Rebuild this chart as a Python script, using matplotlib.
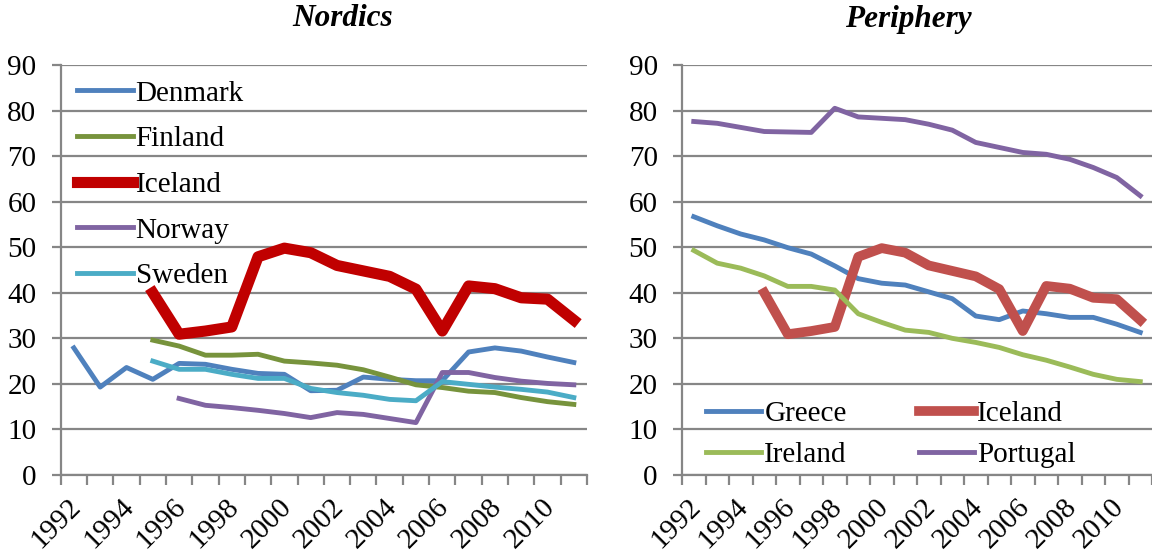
import numpy as np
import matplotlib
matplotlib.use("Agg")
import matplotlib.pyplot as plt
import matplotlib.transforms as mtransforms

plt.rcParams['font.family'] = ['Liberation Serif', 'DejaVu Serif']

years = list(range(1992, 2012))
nan = np.nan

# Nordics
denmark = [27.9, 19.3, 23.6, 21.0, 24.5, 24.3, 23.2, 22.3, 22.1, 18.5, 18.6, 21.5,
           21.0, 20.7, 20.7, 27.0, 27.9, 27.2, 25.9, 24.7]
finland = [nan, nan, nan, 29.6, 28.3, 26.3, 26.3, 26.5, 25.0, 24.6, 24.1, 23.1,
           21.5, 19.8, 19.2, 18.4, 18.1, 17.0, 16.1, 15.5]
iceland = [nan, nan, nan, 40.0, 30.9, 31.6, 32.5, 47.9, 49.8, 48.8, 46.0, 44.8,
           43.6, 40.8, 31.6, 41.5, 40.9, 38.9, 38.6, 34.0]
norway = [nan, nan, nan, nan, 16.8, 15.3, 14.8, 14.2, 13.5, 12.6, 13.7, 13.3,
          12.4, 11.5, 22.5, 22.5, 21.4, 20.6, 20.1, 19.8]
sweden = [nan, nan, nan, 25.0, 23.2, 23.2, 22.1, 21.2, 21.2, 19.0, 18.1, 17.5,
          16.6, 16.3, 20.5, 19.9, 19.3, 18.8, 18.2, 17.0]

# Periphery
greece = [56.7, 54.7, 52.9, 51.6, 49.9, 48.5, 45.9, 43.1, 42.1, 41.7, 40.2, 38.7,
          34.9, 34.1, 36.0, 35.4, 34.6, 34.6, 33.1, 31.3]
ireland = [49.3, 46.5, 45.4, 43.7, 41.4, 41.4, 40.6, 35.4, 33.5, 31.8, 31.3, 30.0,
           29.1, 28.0, 26.4, 25.2, 23.7, 22.1, 21.0, 20.5]
portugal = [77.6, 77.2, 76.3, 75.4, 75.3, 75.2, 80.5, 78.6, 78.3, 78.0, 77.0, 75.7,
            73.0, 71.9, 70.8, 70.4, 69.3, 67.5, 65.3, 61.3]

grid_c = '#868686'
fs = 21
thin = 3.5

W, H = 1152, 555
fig = plt.figure(figsize=(W / 100, H / 100), dpi=100)
ax1 = fig.add_axes([60.7/W, 80/H, 526.3/W, 410/H])
ax2 = fig.add_axes([682/W, 80/H, 470/W, 410/H])

x = np.arange(len(years))


def style(ax):
    ax.set_xlim(-0.5, len(years) - 0.5)
    ax.set_ylim(0, 90)
    ax.set_yticks(range(0, 91, 10))
    ax.yaxis.grid(True, color=grid_c, lw=1.6)
    ax.set_axisbelow(True)
    for s in ['top', 'right']:
        ax.spines[s].set_visible(False)
    for s in ['left', 'bottom']:
        ax.spines[s].set_color(grid_c)
        ax.spines[s].set_linewidth(1.6)
    ax.set_xticks(x[::2])
    ax.set_xticklabels([str(y) for y in years[::2]], rotation=45, ha='right', va='center',
                       rotation_mode='anchor', fontsize=fs)
    ax.set_xticks(np.arange(-0.5, len(years)), minor=True)
    ax.tick_params(axis='x', which='major', length=0, pad=20)
    ax.tick_params(axis='x', which='minor', length=7, width=1.6, color=grid_c)
    ax.tick_params(axis='y', length=6.5, width=1.6, color=grid_c, labelsize=fs, pad=11)
    off = mtransforms.ScaledTranslation(3/100, 0, fig.dpi_scale_trans)
    for lab in ax.get_xticklabels():
        lab.set_transform(lab.get_transform() + off)


style(ax1)
style(ax2)

ax1.plot(x, denmark, color='#4F81BD', lw=thin, label='Denmark')
ax1.plot(x, finland, color='#77933C', lw=thin, label='Finland')
ax1.plot(x, iceland, color='#C00000', lw=8, label='Iceland')
ax1.plot(x, norway, color='#8064A2', lw=thin, label='Norway')
ax1.plot(x, sweden, color='#4BACC6', lw=thin, label='Sweden')
ax1.legend(loc='upper left', bbox_to_anchor=(16/526.3, 0.975 - 5/410), frameon=False,
           fontsize=fs, handlelength=1.92, handletextpad=0.1, labelspacing=0.66,
           borderpad=0, borderaxespad=0)

l_gr, = ax2.plot(x, greece, color='#4F81BD', lw=thin, label='Greece')
l_ic, = ax2.plot(x, iceland, color='#C0504D', lw=7, label='Iceland')
l_ir, = ax2.plot(x, ireland, color='#9BBB59', lw=thin, label='Ireland')
l_pt, = ax2.plot(x, portugal, color='#8064A2', lw=thin, label='Portugal')
ax2.legend(handles=[l_gr, l_ir, l_ic, l_pt], loc='lower left',
           bbox_to_anchor=(24/470, 0.024 - 3/410), frameon=False, fontsize=fs, ncol=2,
           handlelength=1.9, handletextpad=0.1, labelspacing=0.49, columnspacing=2.47,
           borderpad=0, borderaxespad=0)

fig.text(343/W, 1 - 19/H, 'Nordics', ha='center', va='center', fontsize=22.5,
         fontweight='bold', fontstyle='italic')
fig.text(908/W, 1 - 19/H, 'Periphery', ha='center', va='center', fontsize=22.5,
         fontweight='bold', fontstyle='italic')

fig.savefig('out.png', dpi=100)
